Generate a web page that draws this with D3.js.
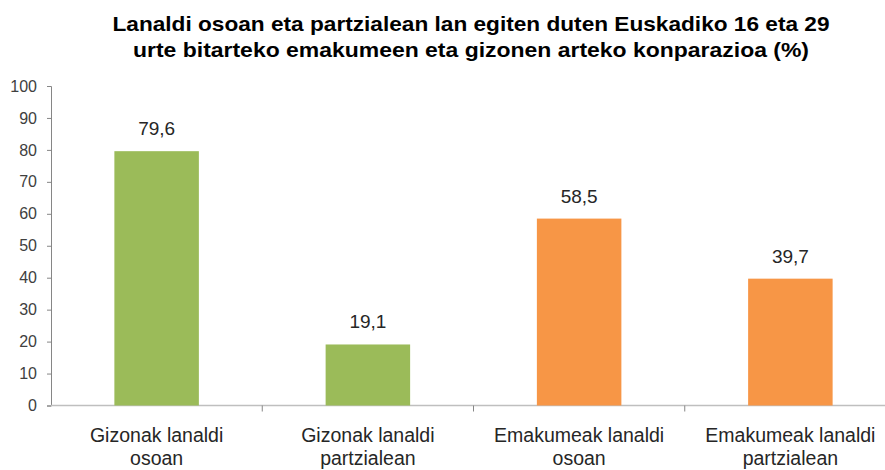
<!DOCTYPE html>
<html>
<head>
<meta charset="utf-8">
<script src="https://cdn.jsdelivr.net/npm/d3@7"></script>
<style>
  body { margin: 0; background: #fff; }
  text { font-family: "Liberation Sans", Arial, sans-serif; }
</style>
</head>
<body>
<svg id="chart"></svg>
<script>
const width = 885, height = 470;

// Chart data
const categories = [
    ["Gizonak lanaldi", "osoan"],
    ["Gizonak lanaldi", "partzialean"],
    ["Emakumeak lanaldi", "osoan"],
    ["Emakumeak lanaldi", "partzialean"]
];
const values = [79.6, 19.1, 58.5, 39.7];
const barColors = ["#9BBB59", "#9BBB59", "#F79646", "#F79646"];
const yTicks = [0, 10, 20, 30, 40, 50, 60, 70, 80, 90, 100];
const titleLines = [
    "Lanaldi osoan eta partzialean lan egiten duten Euskadiko  16 eta 29",
    "urte bitarteko emakumeen eta gizonen arteko konparazioa  (%)"
];
const titleWidths = [717, 676];

const svg = d3.select("#chart")
    .attr("width", width)
    .attr("height", height)
    .attr("viewBox", [0, 0, width, height]);

// plot area runs a bit past the right edge, like the original
const xScale = d3.scaleBand()
    .domain(d3.range(categories.length))
    .range([51, 896])
    .paddingInner(0.6)
    .paddingOuter(0.3);

const yScale = d3.scaleLinear().domain([0, 100]).range([405.5, 86]);

// Title
svg.append("g")
    .selectAll("text")
    .data(titleLines)
    .enter()
    .append("text")
    .attr("x", 471)
    .attr("y", (d, i) => 31 + i * 26)
    .attr("text-anchor", "middle")
    .attr("font-size", 21)
    .attr("font-weight", "bold")
    .attr("fill", "#000")
    .attr("textLength", (d, i) => titleWidths[i])
    .attr("lengthAdjust", "spacingAndGlyphs")
    .text(d => d);

// Y axis
const yAxis = svg.append("g")
    .attr("transform", "translate(51,0)")
    .call(d3.axisLeft(yScale).tickValues(yTicks).tickSize(4).tickPadding(10));
yAxis.select(".domain").attr("stroke", "#868686");
yAxis.selectAll(".tick line").attr("stroke", "#868686");
yAxis.selectAll(".tick text")
    .attr("font-size", 16)
    .attr("fill", "#404040")
    .style("font-family", "Liberation Sans, Arial, sans-serif");

// X axis baseline and category dividers
const xAxisG = svg.append("g").attr("class", "x-axis");
xAxisG.append("line")
    .attr("x1", 51).attr("x2", width)
    .attr("y1", yScale(0)).attr("y2", yScale(0))
    .attr("stroke", "#BFBFBF")
    .attr("stroke-width", 1.5);
xAxisG.selectAll(".divider")
    .data(d3.range(1, categories.length))
    .enter()
    .append("line")
    .attr("class", "divider")
    .attr("x1", i => xScale(i) - xScale.step() * xScale.paddingInner() / 2)
    .attr("x2", i => xScale(i) - xScale.step() * xScale.paddingInner() / 2)
    .attr("y1", yScale(0))
    .attr("y2", yScale(0) + 6)
    .attr("stroke", "#868686");

// Bars
svg.append("g")
    .selectAll("rect")
    .data(values)
    .enter()
    .append("rect")
    .attr("x", (d, i) => xScale(i))
    .attr("y", d => yScale(d))
    .attr("width", xScale.bandwidth())
    .attr("height", d => yScale(0) - yScale(d))
    .attr("fill", (d, i) => barColors[i]);

// Value labels
svg.append("g")
    .selectAll("text")
    .data(values)
    .enter()
    .append("text")
    .attr("x", (d, i) => xScale(i) + xScale.bandwidth() / 2)
    .attr("y", d => yScale(d) - 16)
    .attr("text-anchor", "middle")
    .attr("font-size", 19)
    .attr("fill", "#262626")
    .text(d => d.toFixed(1).replace(".", ","));

// Category labels
const catG = svg.append("g")
    .selectAll("text")
    .data(categories)
    .enter()
    .append("text")
    .attr("text-anchor", "middle")
    .attr("font-size", 19.5)
    .attr("fill", "#262626");
catG.selectAll("tspan")
    .data((d, i) => d.map(line => ({ line, i })))
    .enter()
    .append("tspan")
    .attr("x", d => xScale(d.i) + xScale.bandwidth() / 2)
    .attr("y", (d, j) => 442 + j * 23)
    .text(d => d.line);
</script>
</body>
</html>
